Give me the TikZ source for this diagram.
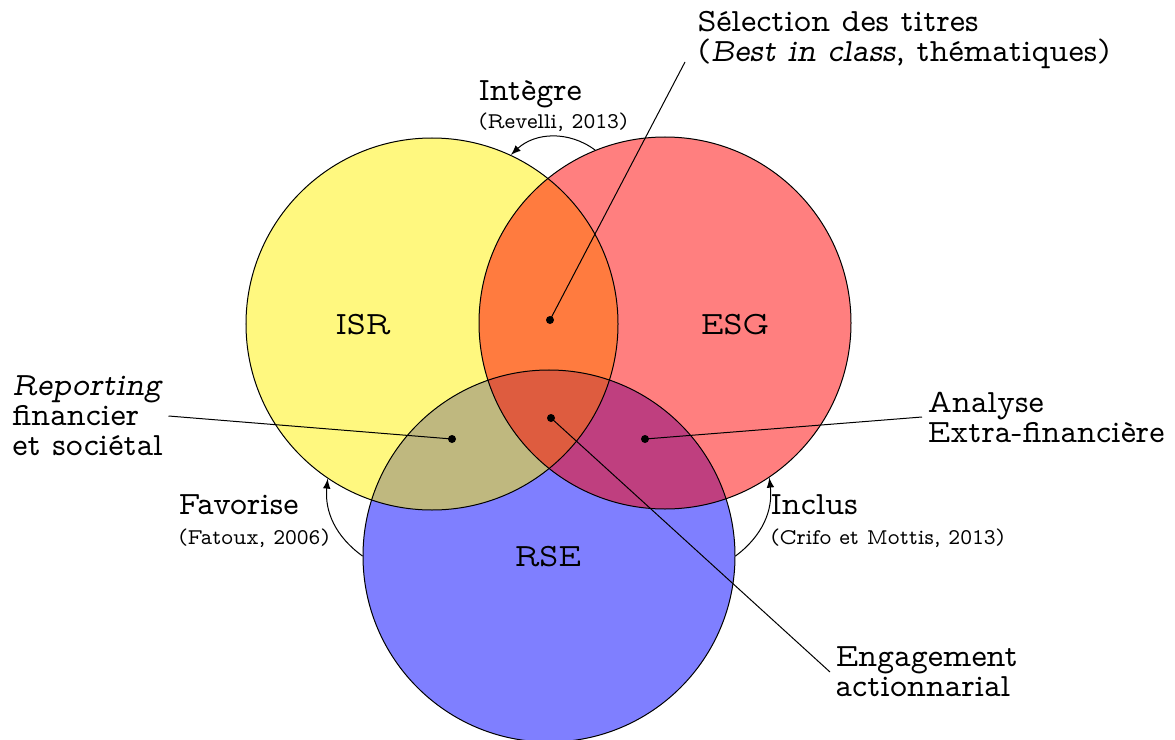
\documentclass[tikz,border=0pt]{standalone}
\renewcommand{\familydefault}{lmvtt}
\usetikzlibrary{arrows}
\newcommand{\smalltxt}{\fontsize{9}{11}\selectfont}
\begin{document}
\begin{tikzpicture}[x=0.4pt,y=-0.4pt,
  font=\fontsize{13}{12}\selectfont,
  venn/.style={circle,minimum size=148.8pt,inner sep=0pt,fill opacity=0.5},
  lbl/.style={align=left,anchor=west,inner sep=2pt},
  dotmark/.style={fill=black},
  conn/.style={line width=0.4pt},
  rel/.style={-latex,line width=0.4pt}]
\useasboundingbox (0,0) rectangle (1175,740);
% fills
\node[venn,fill=blue]   (rse) at (549,556) {};
\node[venn,fill=yellow] (isr) at (432,324) {};
\node[venn,fill=red]    (esg) at (665,323) {};
% outlines
\draw (rse.center) circle[radius=74.4pt];
\draw (isr.center) circle[radius=74.4pt];
\draw (esg.center) circle[radius=74.4pt];
% circle labels
\node (tisr) at (363,325) {ISR};
\node (tesg) at (735,325) {ESG};
\node (trse) at (548,557) {RSE};
% region dots
\coordinate (dtop) at (550,320);
\coordinate (dleft) at (452,439);
\coordinate (dmid) at (551,418);
\coordinate (dright) at (645,439);
\coordinate (selend) at (685,62);
\foreach \d in {dtop,dleft,dmid,dright} \fill[dotmark] (\d) circle[radius=1.6pt];
% text labels
\node[lbl] (sel) at (692,40) {S\'election des titres\\(\emph{Best in class}, th\'ematiques)};
\node[lbl] (rep) at (7,416) {\emph{Reporting}\\financier\\et soci\'etal};
\node[lbl] (ana) at (922,417) {Analyse\\Extra-financi\`ere};
\node[lbl] (eng) at (830,672) {Engagement\\actionnarial};
\node[lbl] (int) at (473,106) {Int\`egre\\[-1pt]{\smalltxt (Revelli, 2013)}};
\node[lbl] (fav) at (173,521) {Favorise\\[0pt]{\smalltxt (Fatoux, 2006)}};
\node[lbl] (inc) at (765,521) {Inclus\\[0pt]{\smalltxt (Crifo et Mottis, 2013)}};
% connectors
\draw[conn] (dtop) -- (selend);
\draw[conn] (dleft) -- (rep.east);
\draw[conn] (dright) -- (ana.west);
\draw[conn] (dmid) -- (eng.west);
% relations
\draw[rel] (esg.112) to[bend right=40] (isr.65);
\draw[rel] (rse.180) to[bend left=30] (isr.236);
\draw[rel] (rse.0) to[bend right=30] (esg.304);
\end{tikzpicture}
\end{document}
